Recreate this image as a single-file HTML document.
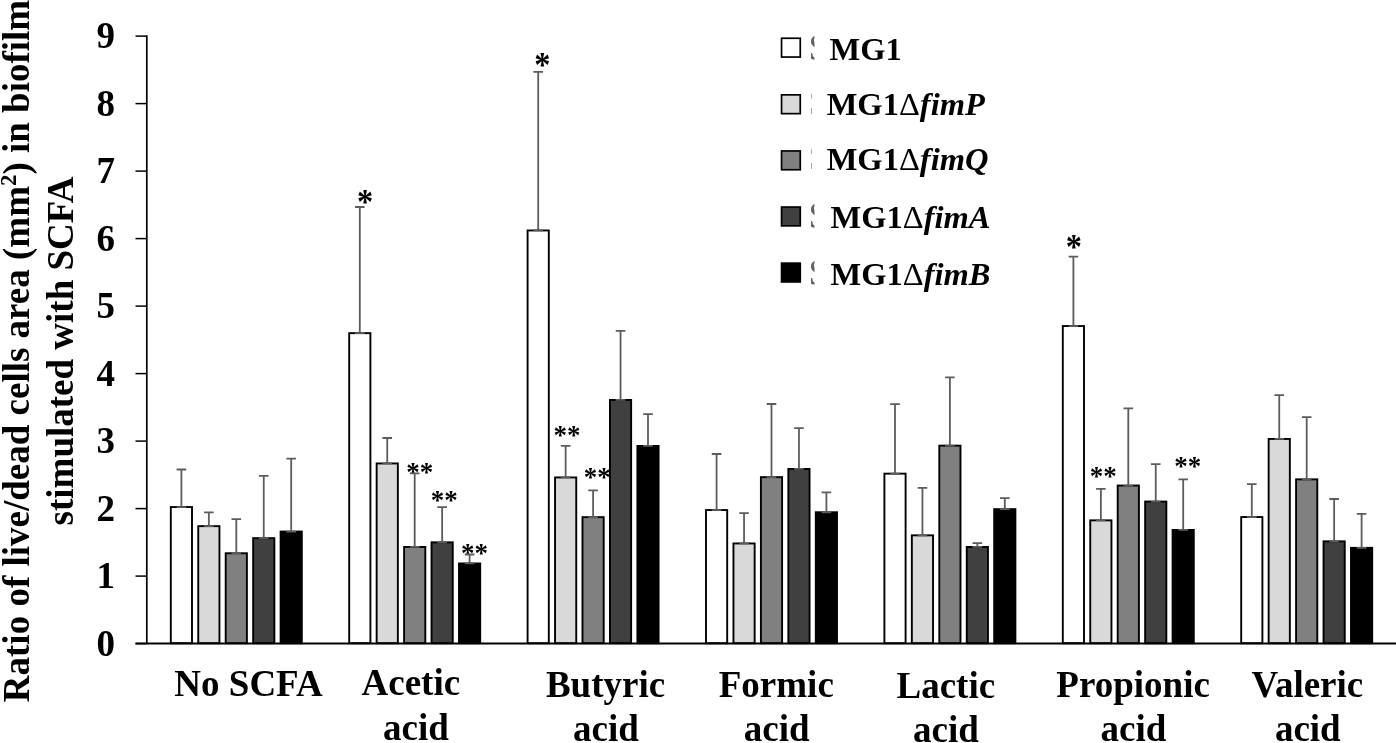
<!DOCTYPE html>
<html lang="en">
<head>
<meta charset="utf-8">
<title>Ratio of live/dead cells area in biofilm stimulated with SCFA</title>
<style>
html,body{margin:0;padding:0;background:#fff;}
body{width:1396px;height:743px;overflow:hidden;}
svg{display:block;}
</style>
</head>
<body>
<svg width="1396" height="743" viewBox="0 0 1396 743">
<rect x="0" y="0" width="1396" height="743" fill="#ffffff"/>
<g font-family="'Liberation Serif', 'Times New Roman', Times, serif" font-weight="bold" fill="#000" text-anchor="middle">
<text transform="translate(365.2 214.3) scale(0.9 1)" font-size="36.0">*</text>
<text transform="translate(542.3 77.1) scale(0.9 1)" font-size="36.0">*</text>
<text transform="translate(1073.9 259.1) scale(0.9 1)" font-size="36.0">*</text>
<text transform="translate(419.7 480.6) scale(0.965 1)" font-size="28.0">**</text>
<text transform="translate(444.3 509.4) scale(0.965 1)" font-size="28.0">**</text>
<text transform="translate(474.5 561.6) scale(0.965 1)" font-size="28.0">**</text>
<text transform="translate(567.0 443.5) scale(0.965 1)" font-size="28.0">**</text>
<text transform="translate(597.2 486.2) scale(0.965 1)" font-size="28.0">**</text>
<text transform="translate(1103.3 485.1) scale(0.965 1)" font-size="28.0">**</text>
<text transform="translate(1187.8 475.1) scale(0.965 1)" font-size="28.0">**</text>
</g>
<g stroke="#000" stroke-width="1.90">
<rect x="170.80" y="507.05" width="21.20" height="136.15" fill="#ffffff"/>
<rect x="198.25" y="526.15" width="21.20" height="117.05" fill="#d9d9d9"/>
<rect x="225.70" y="553.25" width="21.20" height="89.95" fill="#808080"/>
<rect x="253.15" y="538.15" width="21.20" height="105.05" fill="#404040"/>
<rect x="280.60" y="531.55" width="21.20" height="111.65" fill="#000000"/>
<rect x="349.20" y="333.15" width="21.20" height="310.05" fill="#ffffff"/>
<rect x="376.65" y="463.45" width="21.20" height="179.75" fill="#d9d9d9"/>
<rect x="404.10" y="546.95" width="21.20" height="96.25" fill="#808080"/>
<rect x="431.55" y="542.35" width="21.20" height="100.85" fill="#404040"/>
<rect x="459.00" y="563.45" width="21.20" height="79.75" fill="#000000"/>
<rect x="527.60" y="230.45" width="21.20" height="412.75" fill="#ffffff"/>
<rect x="555.05" y="477.45" width="21.20" height="165.75" fill="#d9d9d9"/>
<rect x="582.50" y="517.15" width="21.20" height="126.05" fill="#808080"/>
<rect x="609.95" y="399.95" width="21.20" height="243.25" fill="#404040"/>
<rect x="637.40" y="445.95" width="21.20" height="197.25" fill="#000000"/>
<rect x="706.00" y="510.05" width="21.20" height="133.15" fill="#ffffff"/>
<rect x="733.45" y="543.45" width="21.20" height="99.75" fill="#d9d9d9"/>
<rect x="760.90" y="477.15" width="21.20" height="166.05" fill="#808080"/>
<rect x="788.35" y="468.95" width="21.20" height="174.25" fill="#404040"/>
<rect x="815.80" y="512.25" width="21.20" height="130.95" fill="#000000"/>
<rect x="884.40" y="473.65" width="21.20" height="169.55" fill="#ffffff"/>
<rect x="911.85" y="535.35" width="21.20" height="107.85" fill="#d9d9d9"/>
<rect x="939.30" y="445.65" width="21.20" height="197.55" fill="#808080"/>
<rect x="966.75" y="546.95" width="21.20" height="96.25" fill="#404040"/>
<rect x="994.20" y="509.15" width="21.20" height="134.05" fill="#000000"/>
<rect x="1062.80" y="326.05" width="21.20" height="317.15" fill="#ffffff"/>
<rect x="1090.25" y="520.35" width="21.20" height="122.85" fill="#d9d9d9"/>
<rect x="1117.70" y="485.55" width="21.20" height="157.65" fill="#808080"/>
<rect x="1145.15" y="501.55" width="21.20" height="141.65" fill="#404040"/>
<rect x="1172.60" y="529.95" width="21.20" height="113.25" fill="#000000"/>
<rect x="1241.20" y="517.05" width="21.20" height="126.15" fill="#ffffff"/>
<rect x="1268.65" y="438.95" width="21.20" height="204.25" fill="#d9d9d9"/>
<rect x="1296.10" y="479.35" width="21.20" height="163.85" fill="#808080"/>
<rect x="1323.55" y="541.35" width="21.20" height="101.85" fill="#404040"/>
<rect x="1351.00" y="547.85" width="21.20" height="95.35" fill="#000000"/>
</g>
<g stroke="#5c5c5c" stroke-width="1.80" fill="none">
<path d="M176.60 469.50H186.20M181.40 469.50V507.05M176.60 507.05H186.20"/>
<path d="M204.05 512.40H213.65M208.85 512.40V526.15M204.05 526.15H213.65"/>
<path d="M231.50 519.20H241.10M236.30 519.20V553.25M231.50 553.25H241.10"/>
<path d="M258.95 475.90H268.55M263.75 475.90V538.15M258.95 538.15H268.55"/>
<path d="M286.40 458.70H296.00M291.20 458.70V531.55M286.40 531.55H296.00"/>
<path d="M355.00 207.00H364.60M359.80 207.00V333.15M355.00 333.15H364.60"/>
<path d="M382.45 438.00H392.05M387.25 438.00V463.45M382.45 463.45H392.05"/>
<path d="M409.90 473.40H419.50M414.70 473.40V546.95M409.90 546.95H419.50"/>
<path d="M437.35 507.20H446.95M442.15 507.20V542.35M437.35 542.35H446.95"/>
<path d="M464.80 554.50H474.40M469.60 554.50V563.45M464.80 563.45H474.40"/>
<path d="M533.40 71.80H543.00M538.20 71.80V230.45M533.40 230.45H543.00"/>
<path d="M560.85 445.90H570.45M565.65 445.90V477.45M560.85 477.45H570.45"/>
<path d="M588.30 490.30H597.90M593.10 490.30V517.15M588.30 517.15H597.90"/>
<path d="M615.75 330.80H625.35M620.55 330.80V399.95M615.75 399.95H625.35"/>
<path d="M643.20 414.20H652.80M648.00 414.20V445.95M643.20 445.95H652.80"/>
<path d="M711.80 454.00H721.40M716.60 454.00V510.05M711.80 510.05H721.40"/>
<path d="M739.25 513.10H748.85M744.05 513.10V543.45M739.25 543.45H748.85"/>
<path d="M766.70 404.00H776.30M771.50 404.00V477.15M766.70 477.15H776.30"/>
<path d="M794.15 428.10H803.75M798.95 428.10V468.95M794.15 468.95H803.75"/>
<path d="M821.60 492.30H831.20M826.40 492.30V512.25M821.60 512.25H831.20"/>
<path d="M890.20 404.20H899.80M895.00 404.20V473.65M890.20 473.65H899.80"/>
<path d="M917.65 487.80H927.25M922.45 487.80V535.35M917.65 535.35H927.25"/>
<path d="M945.10 377.30H954.70M949.90 377.30V445.65M945.10 445.65H954.70"/>
<path d="M972.55 543.20H982.15M977.35 543.20V546.95M972.55 546.95H982.15"/>
<path d="M1000.00 498.20H1009.60M1004.80 498.20V509.15M1000.00 509.15H1009.60"/>
<path d="M1068.60 256.60H1078.20M1073.40 256.60V326.05M1068.60 326.05H1078.20"/>
<path d="M1096.05 488.80H1105.65M1100.85 488.80V520.35M1096.05 520.35H1105.65"/>
<path d="M1123.50 408.30H1133.10M1128.30 408.30V485.55M1123.50 485.55H1133.10"/>
<path d="M1150.95 464.20H1160.55M1155.75 464.20V501.55M1150.95 501.55H1160.55"/>
<path d="M1178.40 479.40H1188.00M1183.20 479.40V529.95M1178.40 529.95H1188.00"/>
<path d="M1247.00 484.10H1256.60M1251.80 484.10V517.05M1247.00 517.05H1256.60"/>
<path d="M1274.45 395.10H1284.05M1279.25 395.10V438.95M1274.45 438.95H1284.05"/>
<path d="M1301.90 417.10H1311.50M1306.70 417.10V479.35M1301.90 479.35H1311.50"/>
<path d="M1329.35 499.00H1338.95M1334.15 499.00V541.35M1329.35 541.35H1338.95"/>
<path d="M1356.80 513.80H1366.40M1361.60 513.80V547.85M1356.80 547.85H1366.40"/>
</g>
<g stroke="#000" fill="none">
<path d="M146.80 35.35V643.60" stroke-width="1.7"/>
<path d="M135.50 643.60H146.80" stroke-width="1.5"/>
<path d="M135.50 576.10H146.80" stroke-width="1.5"/>
<path d="M135.50 508.60H146.80" stroke-width="1.5"/>
<path d="M135.50 441.10H146.80" stroke-width="1.5"/>
<path d="M135.50 373.60H146.80" stroke-width="1.5"/>
<path d="M135.50 306.10H146.80" stroke-width="1.5"/>
<path d="M135.50 238.60H146.80" stroke-width="1.5"/>
<path d="M135.50 171.10H146.80" stroke-width="1.5"/>
<path d="M135.50 103.60H146.80" stroke-width="1.5"/>
<path d="M135.50 36.10H146.80" stroke-width="1.5"/>
<path d="M135.50 643.60H1396" stroke-width="2.0"/>
</g>
<g font-family="'Liberation Serif', 'Times New Roman', Times, serif" font-weight="bold" font-size="37.0" fill="#000" text-anchor="end">
<text x="115.1" y="655.9">0</text>
<text x="115.1" y="588.4">1</text>
<text x="115.1" y="520.9">2</text>
<text x="115.1" y="453.4">3</text>
<text x="115.1" y="385.9">4</text>
<text x="115.1" y="318.4">5</text>
<text x="115.1" y="250.9">6</text>
<text x="115.1" y="183.4">7</text>
<text x="115.1" y="115.9">8</text>
<text x="115.1" y="48.4">9</text>
</g>
<g font-family="'Liberation Serif', 'Times New Roman', Times, serif" font-weight="bold" font-size="37.0" fill="#000" text-anchor="middle">
<text transform="translate(28.6 351) rotate(-90)" x="0" y="0">Ratio of live/dead cells area (mm<tspan font-size="22.9" dy="-12.5">2</tspan><tspan dy="12.5">) in biofilm</tspan></text>
<text transform="translate(73.2 351) rotate(-90)" x="0" y="0">stimulated with SCFA</text>
</g>
<g font-family="'Liberation Serif', 'Times New Roman', Times, serif" font-weight="bold" font-size="37.0" fill="#000" text-anchor="middle">
<text x="248.5" y="695.7">No SCFA</text>
<text x="410.8" y="695.0">Acetic</text>
<text x="415.9" y="740.2">acid</text>
<text x="605.5" y="696.5">Butyric</text>
<text x="606.0" y="741.2">acid</text>
<text x="776.3" y="696.5">Formic</text>
<text x="776.7" y="741.2">acid</text>
<text x="945.8" y="697.6">Lactic</text>
<text x="946.0" y="742.4">acid</text>
<text x="1133.1" y="696.5">Propionic</text>
<text x="1133.5" y="741.2">acid</text>
<text x="1307.4" y="696.5">Valeric</text>
<text x="1307.8" y="741.2">acid</text>
</g>
<defs><clipPath id="sl"><rect x="809" y="0" width="5.5" height="743"/></clipPath><clipPath id="sl2"><rect x="810.9" y="0" width="0.9" height="743"/></clipPath></defs>
<rect x="781.55" y="38.25" width="18.70" height="18.80" fill="#ffffff" stroke="#000" stroke-width="1.7"/>
<text clip-path="url(#sl)" x="808.6" y="60.3" font-family="'Liberation Serif', 'Times New Roman', Times, serif" font-size="37" fill="#626262">S</text>
<text x="829.6" y="60.3" font-family="'Liberation Serif', 'Times New Roman', Times, serif" font-weight="bold" font-size="32.5" fill="#000">MG1</text>
<rect x="781.55" y="94.85" width="18.70" height="18.80" fill="#d9d9d9" stroke="#000" stroke-width="1.7"/>
<text clip-path="url(#sl2)" x="808.6" y="115.3" font-family="'Liberation Serif', 'Times New Roman', Times, serif" font-size="37" fill="#909090">S</text>
<text x="826.7" y="115.3" font-family="'Liberation Serif', 'Times New Roman', Times, serif" font-weight="bold" font-size="32.5" fill="#000">MG1<tspan font-weight="normal">Δ</tspan><tspan font-style="italic">fimP</tspan></text>
<rect x="781.55" y="150.95" width="18.70" height="18.80" fill="#808080" stroke="#000" stroke-width="1.7"/>
<text clip-path="url(#sl2)" x="808.6" y="170.3" font-family="'Liberation Serif', 'Times New Roman', Times, serif" font-size="37" fill="#909090">S</text>
<text x="826.7" y="170.3" font-family="'Liberation Serif', 'Times New Roman', Times, serif" font-weight="bold" font-size="32.5" fill="#000">MG1<tspan font-weight="normal">Δ</tspan><tspan font-style="italic">fimQ</tspan></text>
<rect x="781.55" y="207.05" width="18.70" height="18.80" fill="#404040" stroke="#000" stroke-width="1.7"/>
<text clip-path="url(#sl)" x="808.6" y="228.3" font-family="'Liberation Serif', 'Times New Roman', Times, serif" font-size="37" fill="#626262">S</text>
<text x="830.6" y="228.3" font-family="'Liberation Serif', 'Times New Roman', Times, serif" font-weight="bold" font-size="32.5" fill="#000">MG1<tspan font-weight="normal">Δ</tspan><tspan font-style="italic">fimA</tspan></text>
<rect x="781.55" y="263.15" width="18.70" height="18.80" fill="#000000" stroke="#000" stroke-width="1.7"/>
<text clip-path="url(#sl)" x="808.6" y="285.0" font-family="'Liberation Serif', 'Times New Roman', Times, serif" font-size="37" fill="#626262">S</text>
<text x="830.6" y="285.0" font-family="'Liberation Serif', 'Times New Roman', Times, serif" font-weight="bold" font-size="32.5" fill="#000">MG1<tspan font-weight="normal">Δ</tspan><tspan font-style="italic">fimB</tspan></text>
</svg>
</body>
</html>
